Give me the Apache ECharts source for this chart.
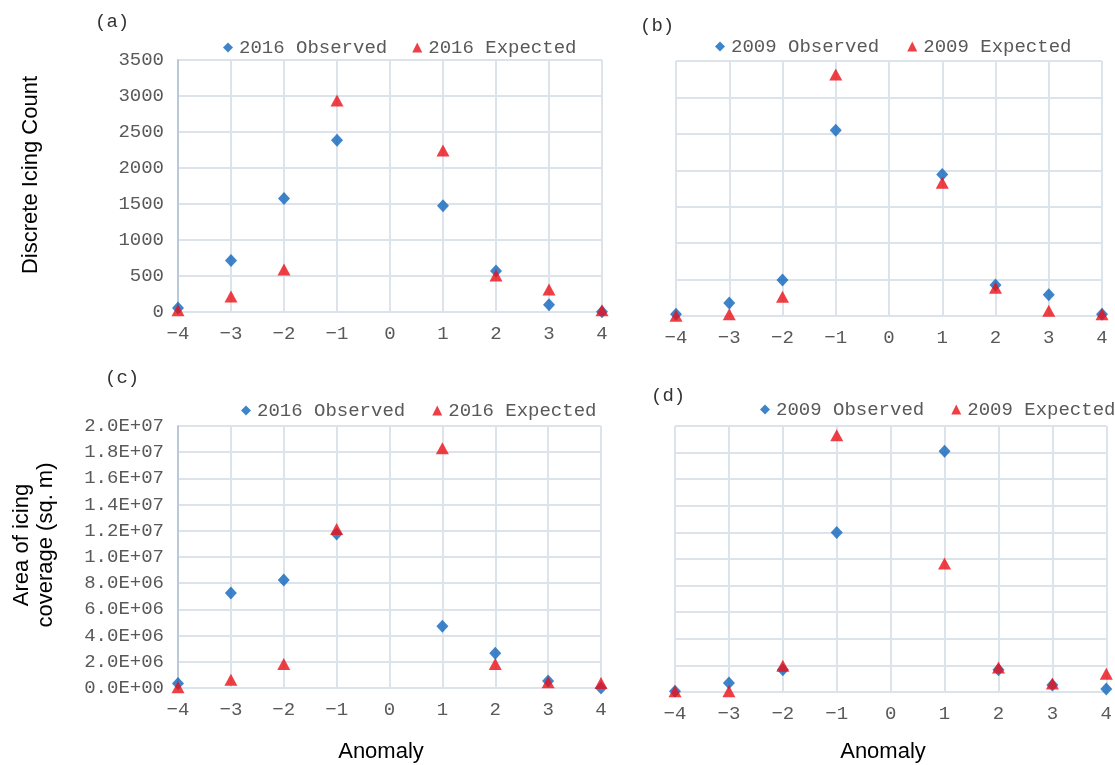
<!DOCTYPE html>
<html>
<head>
<meta charset="utf-8">
<script src="https://cdn.jsdelivr.net/npm/echarts@6/dist/echarts.min.js"></script>
<style>
html,body{margin:0;padding:0;background:#fff;}
#chart{width:1115px;height:765px;}
</style>
</head>
<body>
<div id="chart"></div>
<script>
// ---- data ----
var anomaly = [-4, -3, -2, -1, 1, 2, 3, 4];
var obs2016Count = [55, 714, 1575, 2385, 1474, 571, 101, 5];
var exp2016Count = [23, 216, 590, 2938, 2243, 507, 313, 23];
var obs2009Count = [23, 178, 493, 2550, 1942, 425, 293, 23];
var exp2009Count = [5, 23, 265, 3315, 1829, 388, 73, 23];
var obs2016Area = [350000, 7250000, 8240000, 11760000, 4710000, 2660000, 530000, 0];
var exp2016Area = [50000, 630000, 1830000, 12140000, 18300000, 1830000, 430000, 380000];
var obs2009Area = [50000, 680000, 1680000, 12000000, 18100000, 1680000, 530000, 230000];
var exp2009Area = [50000, 50000, 1980000, 19300000, 9660000, 1850000, 630000, 1380000];
var panelLabels = ['(a)', '(b)', '(c)', '(d)'];
var seriesNames = [['2016 Observed', '2016 Expected'], ['2009 Observed', '2009 Expected'], ['2016 Observed', '2016 Expected'], ['2009 Observed', '2009 Expected']];
var yTitleTop = 'Discrete Icing Count';
var yTitleBottom = ['Area of icing', 'coverage (sq. m)'];
var xTitle = 'Anomaly';

function zip(xs, ys) { return xs.map(function (x, i) { return [x, ys[i]]; }); }

var MONO = "'Liberation Mono', 'Courier New', monospace";
var SANS = "'Liberation Sans', Arial, sans-serif";
var TICK = '#595959';
var GRIDC = '#dce3eb';
var BLUE = '#0f65bd';
var RED = '#ea0f17';

function sci(v) {
  if (v === 0) return '0.0E+00';
  var e = Math.floor(Math.log10(v) + 1e-9);
  var m = v / Math.pow(10, e);
  var es = (e < 10 ? '0' : '') + e;
  return m.toFixed(1) + 'E+' + es;
}

var grids = [
  { left: 178, width: 424, top: 60, height: 252 },
  { left: 676, width: 426, top: 61, height: 255 },
  { left: 178, width: 423, top: 426, height: 262 },
  { left: 675, width: 438, top: 426, height: 266 }
];

var xAxes = grids.map(function (g, i) {
  return {
    type: 'value', gridIndex: i, min: -4, max: 4, interval: 1,
    axisLine: { show: false },
    axisTick: { show: false },
    splitLine: { show: true, lineStyle: { color: GRIDC, width: 2 } },
    axisLabel: { fontFamily: MONO, fontSize: 19, color: TICK, margin: 12,
      formatter: function (v) { return v < 0 ? '\u2212' + Math.abs(v) : String(v); } }
  };
});

var yAxes = grids.map(function (g, i) {
  var isCount = i < 2;
  var showLab = (i === 0 || i === 2);
  return {
    type: 'value', gridIndex: i, min: 0,
    max: isCount ? 3500 : 20000000,
    interval: isCount ? 500 : 2000000,
    axisLine: { show: showLab, onZero: false, lineStyle: { color: '#b9c9da', width: 2 } },
    axisTick: { show: false },
    splitLine: { show: true, lineStyle: { color: GRIDC, width: 2 } },
    axisLabel: { show: showLab, fontFamily: MONO, fontSize: 19, color: TICK, margin: 14,
      formatter: isCount ? function (v) { return String(v); } : sci }
  };
});

var obsData = [obs2016Count, obs2009Count, obs2016Area, obs2009Area];
var expData = [exp2016Count, exp2009Count, exp2016Area, exp2009Area];
var series = [];
for (var i = 0; i < 4; i++) {
  series.push({
    type: 'scatter', name: seriesNames[i][0], xAxisIndex: i, yAxisIndex: i,
    symbol: 'diamond', symbolSize: [12, 13], itemStyle: { color: BLUE },
    data: zip(anomaly, obsData[i]), clip: false, z: 2
  });
  series.push({
    type: 'scatter', name: seriesNames[i][1], xAxisIndex: i, yAxisIndex: i,
    symbol: 'triangle', symbolSize: [13, 12], itemStyle: { color: RED },
    data: zip(anomaly, expData[i]), clip: false, z: 3
  });
}

var legendPos = [
  { left: 223, top: 38, gap: 25 },
  { left: 715, top: 37, gap: 28 },
  { left: 241, top: 401, gap: 27 },
  { left: 760, top: 400, gap: 27 }
];
var legends = legendPos.map(function (p, i) {
  return {
    left: p.left, top: p.top, width: 420, itemGap: p.gap, itemWidth: 10, itemHeight: 10,
    padding: 0, selectedMode: false,
    textStyle: { fontFamily: MONO, fontSize: 19, color: TICK, padding: [0, 0, 0, 1] },
    data: [{ name: seriesNames[i][0], icon: 'diamond' }, { name: seriesNames[i][1], icon: 'triangle' }]
  };
});

var labelPos = [[95, 12], [640, 16], [105, 368], [651, 386]];
var graphics = labelPos.map(function (p, i) {
  return { type: 'text', left: p[0], top: p[1],
    style: { text: panelLabels[i], font: "19px " + MONO, fill: '#333' } };
});
var titleStyle = { font: "22px " + SANS, fill: '#000', align: 'center', verticalAlign: 'middle' };
function ts(t) { return Object.assign({ text: t }, titleStyle); }
graphics.push({ type: 'text', x: 31, y: 175, rotation: Math.PI / 2, style: ts(yTitleTop) });
graphics.push({ type: 'text', x: 22, y: 545, rotation: Math.PI / 2, style: ts(yTitleBottom[0]) });
graphics.push({ type: 'text', x: 46, y: 545, rotation: Math.PI / 2, style: ts(yTitleBottom[1]) });
graphics.push({ type: 'text', x: 381, y: 752, style: ts(xTitle) });
graphics.push({ type: 'text', x: 883, y: 752, style: ts(xTitle) });

var chart = echarts.init(document.getElementById('chart'), null, { renderer: 'canvas' });
chart.setOption({
  animation: false,
  backgroundColor: '#fff',
  grid: grids,
  xAxis: xAxes,
  yAxis: yAxes,
  legend: legends,
  graphic: graphics,
  series: series
});
</script>
</body>
</html>
